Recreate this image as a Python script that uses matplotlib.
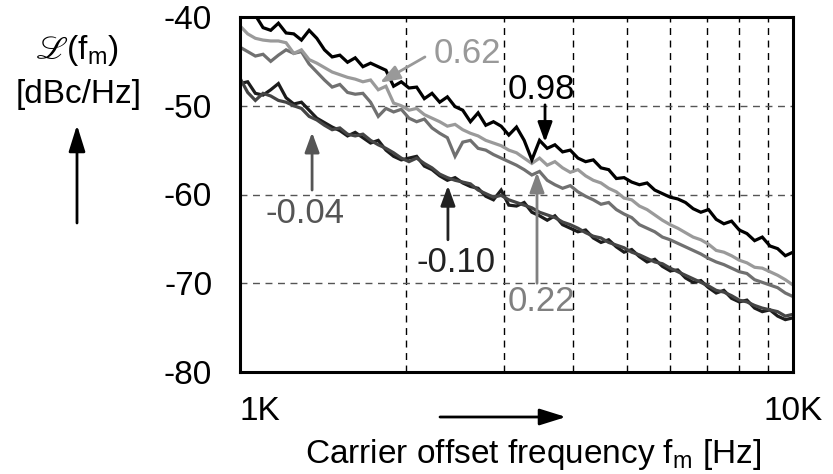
import numpy as np
import matplotlib
matplotlib.use("Agg")
import matplotlib.pyplot as plt

plt.rcParams['font.family'] = ['Liberation Sans', 'DejaVu Sans']
plt.rcParams['mathtext.fontset'] = 'custom'
plt.rcParams['mathtext.rm'] = 'Liberation Sans'
plt.rcParams['mathtext.fallback'] = 'stix'
plt.rcParams['axes.unicode_minus'] = False

# carrier offset frequency sweep, 1 kHz .. 10 kHz (log spaced)
freq = np.geomspace(1000, 10000, 73)

# phase noise in dBc/Hz
pn_098 = [-38.5, -39.2, -39.8, -41.2, -41.5, -40.7, -41.8, -41.9, -42.6, -41.5,
          -42.4, -43.7, -44.5, -44.3, -45.1, -44.6, -45.6, -45.2, -45.6, -46.0,
          -47.8, -47.3, -48.0, -47.9, -49.2, -48.6, -49.6, -49.0, -50.1, -50.5,
          -51.8, -50.8, -52.2, -51.8, -52.3, -53.3, -52.4, -53.9, -56.1, -53.9,
          -54.8, -54.4, -55.2, -55.0, -55.9, -56.3, -56.1, -57.0, -57.2, -58.2,
          -58.1, -58.6, -58.9, -58.7, -59.5, -59.9, -60.3, -60.5, -60.9, -61.6,
          -62.0, -61.7, -62.8, -63.3, -63.0, -64.0, -64.4, -65.2, -64.8, -65.8,
          -66.1, -66.9, -66.5]
pn_062 = [-41.0, -41.9, -42.4, -42.6, -42.7, -42.7, -42.9, -44.1, -43.7, -44.8,
          -45.2, -45.7, -46.2, -46.5, -46.8, -47.0, -47.3, -47.1, -48.2, -47.8,
          -49.7, -50.0, -50.5, -50.3, -51.0, -51.4, -51.8, -52.3, -52.1, -52.7,
          -53.1, -53.4, -53.9, -54.2, -54.5, -55.0, -55.3, -55.9, -56.5, -55.9,
          -56.7, -56.3, -57.0, -57.5, -57.2, -57.9, -58.4, -58.7, -59.3, -59.7,
          -60.4, -60.6, -61.3, -61.7, -62.3, -62.9, -63.4, -63.8, -64.3, -64.8,
          -65.1, -65.6, -66.3, -66.5, -66.9, -67.4, -67.7, -68.2, -68.3, -68.7,
          -69.1, -69.6, -70.2]
pn_022 = [-43.4, -43.9, -44.4, -44.2, -45.0, -44.3, -43.7, -44.1, -43.9, -45.3,
          -46.2, -47.1, -47.9, -47.6, -48.5, -48.7, -48.6, -49.6, -51.2, -50.3,
          -50.7, -50.4, -51.4, -51.8, -51.5, -52.5, -53.1, -53.6, -55.7, -54.1,
          -53.9, -54.8, -55.0, -55.5, -55.9, -56.3, -56.7, -57.2, -57.8, -57.4,
          -58.4, -58.9, -59.3, -59.0, -59.7, -60.2, -60.6, -61.1, -60.9, -61.7,
          -62.2, -62.6, -63.4, -63.8, -64.2, -64.8, -65.1, -65.5, -65.9, -66.3,
          -66.7, -67.2, -67.6, -67.9, -68.3, -68.7, -68.9, -69.6, -69.9, -70.2,
          -70.5, -71.1, -71.5]
pn_m004 = [-46.9, -48.5, -49.4, -48.6, -48.9, -49.4, -49.6, -50.0, -50.3, -51.2,
           -51.6, -52.2, -52.7, -52.5, -53.2, -53.4, -53.2, -53.9, -54.4, -54.8,
           -55.3, -55.9, -56.3, -55.9, -56.5, -57.0, -57.7, -58.1, -58.4, -58.6,
           -58.8, -59.5, -59.9, -60.3, -60.1, -60.6, -60.9, -61.2, -61.5, -62.0,
           -62.3, -62.6, -63.1, -63.4, -63.8, -64.3, -64.7, -64.9, -65.4, -65.7,
           -66.0, -66.5, -66.8, -67.2, -67.6, -67.8, -68.3, -68.7, -69.1, -69.5,
           -69.9, -70.3, -70.8, -71.0, -71.4, -71.9, -72.1, -72.5, -72.8, -73.0,
           -73.2, -73.7, -73.5]
pn_m010 = [-47.5, -47.3, -48.6, -48.8, -48.2, -47.5, -49.1, -49.8, -49.6, -50.5,
           -51.4, -51.9, -52.4, -52.8, -53.4, -53.0, -53.6, -54.2, -53.9, -55.0,
           -55.7, -56.1, -55.9, -55.7, -56.8, -57.2, -57.9, -58.4, -58.1, -58.7,
           -59.1, -59.3, -60.2, -60.6, -59.5, -61.2, -61.3, -60.9, -62.0, -62.4,
           -62.9, -62.4, -63.4, -63.8, -64.2, -64.0, -64.9, -65.4, -65.1, -65.9,
           -66.5, -66.2, -67.0, -67.6, -67.3, -68.1, -68.6, -68.5, -69.4, -69.9,
           -69.7, -70.5, -71.1, -70.8, -71.7, -72.1, -71.9, -72.8, -73.2, -73.0,
           -73.7, -74.1, -73.9]

series = [pn_m010, pn_m004, pn_022, pn_062, pn_098]
colors = ['#1c1c1c', '#454545', '#707070', '#9a9a9a', '#000000']

# labels: text, text position, arrow tail, arrow tip (freq, dB), colour
labels = [
    ('0.62', (2573, -44.1), (2160, -44.5), (1791, -47.4), '#999999'),
    ('0.98', (3502, -48.2), (3561, -49.9), (3561, -54.1), '#000000'),
    ('-0.04', (1311, -62.1), (1350, -59.5), (1350, -53.0), '#555555'),
    ('-0.10', (2458, -67.7), (2377, -65.1), (2377, -59.0), '#222222'),
    ('0.22', (3502, -72.1), (3444, -70.0), (3444, -57.5), '#808080'),
]

fig = plt.figure(figsize=(8.33, 4.74), dpi=100)
ax = fig.add_axes([240/833, 1-372/474, 553/833, 355/474])

for s, c in zip(series, colors):
    ax.plot(freq, s, color=c, lw=2.3, solid_joinstyle='miter')

ax.set_xscale('log')
ax.set_xlim(1000, 10000)
ax.set_ylim(-80, -40)
ax.set_yticks([-80, -70, -60, -50, -40])
ax.set_yticklabels(['-80', '-70', '-60', '-50', '-40'])
ax.set_xticks([1000, 10000])
ax.set_xticklabels(['1K', '10K'])
ax.xaxis.set_minor_locator(matplotlib.ticker.LogLocator(subs=np.arange(2, 10)))
ax.xaxis.set_minor_formatter(matplotlib.ticker.NullFormatter())
ax.tick_params(axis='both', which='both', length=0, labelsize=24)
ax.tick_params(axis='y', pad=20)
ax.tick_params(axis='x', pad=17)
ax.get_xticklabels()[0].set_horizontalalignment('left')

ax.grid(True, axis='x', which='minor', color='black', ls=(0, (5, 4)), lw=1.0)
ax.grid(True, axis='y', which='major', color='#555555', ls=(0, (5, 4)), lw=1.0)
ax.set_axisbelow(True)
for sp in ax.spines.values():
    sp.set_linewidth(2.2)

for txt, tpos, tail, tip, c in labels:
    ax.text(tpos[0], tpos[1], txt, color=c, fontsize=25, ha='center', va='center')
    ax.annotate('', xy=tip, xytext=tail,
                arrowprops=dict(arrowstyle='-|>,head_length=0.6,head_width=0.22',
                                color=c, lw=2, mutation_scale=20,
                                shrinkA=0, shrinkB=0))

# y axis label with arrow
fig.text(77/833, 1-50/474, r'$\mathrm{ℒ(f}_\mathrm{m}\mathrm{)}$', fontsize=24,
         ha='center', va='center')
fig.text(79/833, 1-94/474, '[dBc/Hz]', fontsize=24, ha='center', va='center')
ax.annotate('', xy=(77, 474-125), xytext=(77, 474-223), xycoords='figure pixels',
            textcoords='figure pixels',
            arrowprops=dict(arrowstyle='-|>,head_length=0.8,head_width=0.25',
                            color='black', lw=2, mutation_scale=20,
                            shrinkA=0, shrinkB=0))

# x axis label with arrow
fig.text(533/833, 1-455/474, r'Carrier offset frequency f$_\mathrm{m}$ [Hz]',
         fontsize=24, ha='center', va='center')
ax.annotate('', xy=(566, 474-417), xytext=(440, 474-417), xycoords='figure pixels',
            textcoords='figure pixels',
            arrowprops=dict(arrowstyle='-|>,head_length=0.8,head_width=0.25',
                            color='black', lw=2, mutation_scale=20,
                            shrinkA=0, shrinkB=0))

fig.savefig('out.png', dpi=100)
